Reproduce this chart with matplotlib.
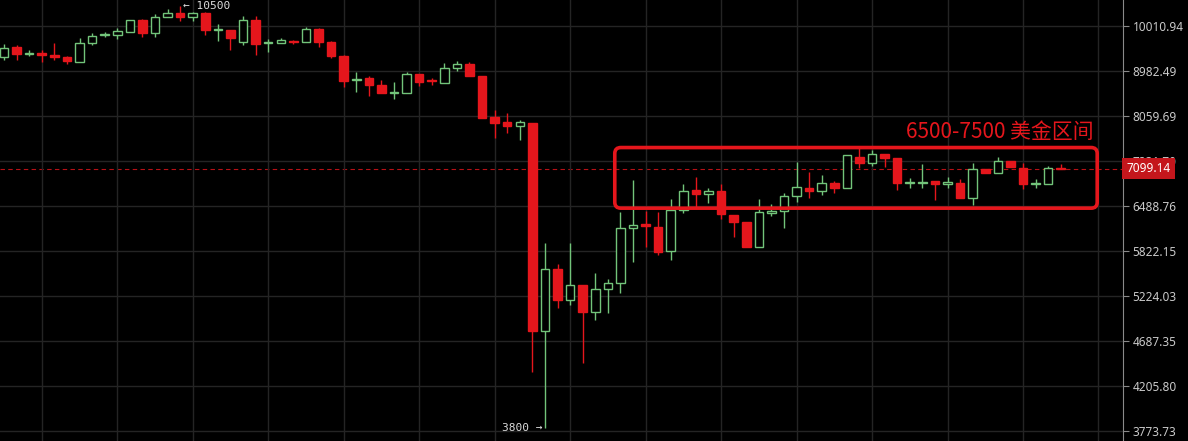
import matplotlib.pyplot as plt
import matplotlib.ticker as mticker
import numpy as np
from matplotlib.patches import FancyBboxPatch
from matplotlib.transforms import blended_transform_factory, IdentityTransform

plt.rcParams['font.family'] = ['Noto Sans CJK SC', 'DejaVu Sans']

# daily OHLC
opens = [9291, 9517, 9358, 9381, 9336, 9291, 9180, 9609, 9796, 9796,
         9867, 10157, 9844, 10230, 10329, 10230, 10329, 9915, 9915, 9632,
         10157, 9609, 9609, 9656, 9632, 9939, 9632, 9313, 8790, 8832,
         8685, 8519, 8519, 8918, 8790, 8727, 9048, 9136, 8875, 8040,
         7944, 7867, 7924, 4799, 5573, 5172, 5362, 5024, 5311, 5388,
         6153, 6212, 6168, 5821, 6426, 6743, 6678, 6727, 6349, 6242,
         5877, 6380, 6410, 6646, 6776, 6727, 6858, 6776, 7301, 7196,
         7354, 7283, 6866, 6866, 6891, 6841, 6858, 6614, 7093, 7025,
         7231, 7110, 6850, 6841, 7110]
highs = [9586, 9563, 9449, 9449, 9609, 9313, 9726, 9844, 9867, 9963,
         10157, 10181, 10305, 10429, 10500, 10354, 10354, 10059, 9915, 10255,
         10255, 9702, 9726, 9679, 9987, 9963, 9656, 9336, 8961, 8875,
         8790, 8748, 8961, 8918, 8832, 9158, 9202, 9180, 8875, 8176,
         8117, 7982, 7924, 5934, 5641, 5934, 5362, 5520, 5440, 6395,
         6907, 6410, 6395, 6598, 6841, 6957, 6776, 6841, 6349, 6242,
         6598, 6519, 6694, 7213, 7042, 6991, 6891, 7336, 7461, 7425,
         7354, 7283, 6941, 7178, 6891, 6957, 6924, 7196, 7093, 7301,
         7231, 7196, 6924, 7144, 7178]
lows = [9224, 9224, 9313, 9180, 9224, 9136, 9180, 9563, 9749, 9702,
        9867, 9749, 9749, 10230, 10132, 10132, 9796, 9656, 9449, 9563,
        9336, 9403, 9609, 9586, 9632, 9517, 9268, 8643, 8539, 8458,
        8519, 8397, 8519, 8664, 8685, 8727, 8982, 8875, 8020, 7643,
        7736, 7606, 4348, 3800, 5073, 5110, 4443, 4928, 5012, 5260,
        5668, 5877, 5765, 5696, 6380, 6472, 6535, 6288, 6021, 5877,
        5877, 6334, 6153, 6551, 6614, 6662, 6694, 6776, 7110, 7144,
        7127, 6743, 6776, 6776, 6582, 6776, 6614, 6504, 7025, 7025,
        7127, 6759, 6776, 6841, 7093]
closes = [9494, 9358, 9381, 9336, 9291, 9202, 9609, 9773, 9820, 9891,
          10157, 9844, 10230, 10329, 10230, 10329, 9915, 9939, 9726, 10157,
          9586, 9632, 9679, 9632, 9939, 9632, 9313, 8769, 8811, 8685,
          8519, 8539, 8918, 8748, 8769, 9048, 9136, 8875, 8020, 7924,
          7867, 7944, 4799, 5573, 5172, 5362, 5024, 5311, 5388, 6153,
          6197, 6183, 5806, 6426, 6727, 6678, 6727, 6364, 6242, 5877,
          6395, 6410, 6646, 6792, 6727, 6858, 6776, 7336, 7196, 7354,
          7283, 6858, 6882, 6882, 6841, 6874, 6614, 7093, 7025, 7231,
          7127, 6841, 6866, 7110, 7099]

price_ticks = [3773.73, 4205.80, 4687.35, 5224.03, 5822.15,
               6488.76, 7231.70, 8059.69, 8982.49, 10010.94]
last_price = 7099.14
zone_low, zone_high = 6455, 7470
zone_label = "6500-7500 美金区间"
high_note = "← 10500"
low_note = "3800 →"

UP = '#72c47a'
DOWN = '#e5161c'
BG = '#000000'
GRID = '#242424'

o = np.array(opens, dtype=float)
h = np.array(highs, dtype=float)
l = np.array(lows, dtype=float)
c = np.array(closes, dtype=float)
x = np.arange(len(o))
up = c >= o

fig = plt.figure(figsize=(11.88, 4.41), dpi=100, facecolor=BG)
ax = fig.add_axes([0, 0, 1123 / 1188, 1], facecolor=BG)
ax.set_yscale('log')

# wicks
ax.vlines(x[up], l[up], h[up], color=UP, lw=1, zorder=2)
ax.vlines(x[~up], l[~up], h[~up], color=DOWN, lw=1, zorder=2)

# bodies
w = 0.68
bot = np.minimum(o, c)
top = np.maximum(o, c)
ax.bar(x[up], top[up] - bot[up], bottom=bot[up], width=w,
       facecolor=BG, edgecolor=UP, lw=1, zorder=3)
ax.bar(x[~up], top[~up] - bot[~up], bottom=bot[~up], width=w,
       facecolor=DOWN, edgecolor=DOWN, lw=1, zorder=3)

ax.set_xlim(-0.32, 88.95)
ax.set_ylim(3684, 10658)

# grid
ax.set_xticks(np.arange(3, 89, 6))
ax.set_yticks(price_ticks)
ax.yaxis.set_minor_locator(mticker.NullLocator())
ax.grid(True, color=GRID, lw=1, zorder=0)
ax.tick_params(axis='x', bottom=False, labelbottom=False)
ax.yaxis.tick_right()
ax.set_yticklabels([f"{v:.2f}" for v in price_ticks], family='Noto Sans')
ax.tick_params(axis='y', colors='#8a8a8a', labelcolor='#c9c9c9',
               labelsize=8.5, length=4, pad=3)
for s in ['top', 'left', 'bottom']:
    ax.spines[s].set_visible(False)
ax.spines['right'].set_color('#8a8a8a')

# last price line and tag
ax.axhline(last_price, color=DOWN, lw=0.8, ls=(0, (4, 3)), alpha=0.8, zorder=1)
tr = blended_transform_factory(ax.transAxes, ax.transData)
ax.text(1.003, last_price, f"{last_price:.2f}", transform=tr, ha='left',
        va='center', color='white', fontsize=8.5, fontweight='bold',
        family='Noto Sans', clip_on=False, zorder=10,
        bbox=dict(boxstyle='square,pad=0.35', fc='#c4161c', ec='none'))

# range box, rounded corners drawn in pixel space
(x0, y0), (x1, y1) = ax.transData.transform([(48.55, zone_low), (86.9, zone_high)])
ax.add_patch(FancyBboxPatch((x0, y0), x1 - x0, y1 - y0,
                            boxstyle='round,pad=0,rounding_size=6',
                            transform=IdentityTransform(),
                            fill=False, ec=DOWN, lw=2.6, zorder=4))
ax.text(86.6, 7560, zone_label, color=DOWN, fontsize=15,
        ha='right', va='bottom', zorder=5)

# extreme labels
ih = int(np.argmax(h))
il = int(np.argmin(l))
ax.annotate(high_note, (ih, h[ih]), xytext=(2, 0), textcoords='offset points',
            color='#dcdcdc', fontsize=8, ha='left', va='center',
            family='DejaVu Sans Mono')
ax.annotate(low_note, (il, l[il]), xytext=(-2, 0), textcoords='offset points',
            color='#dcdcdc', fontsize=8, ha='right', va='center',
            family='DejaVu Sans Mono')

fig.savefig('out.png', dpi=100, facecolor=BG)
